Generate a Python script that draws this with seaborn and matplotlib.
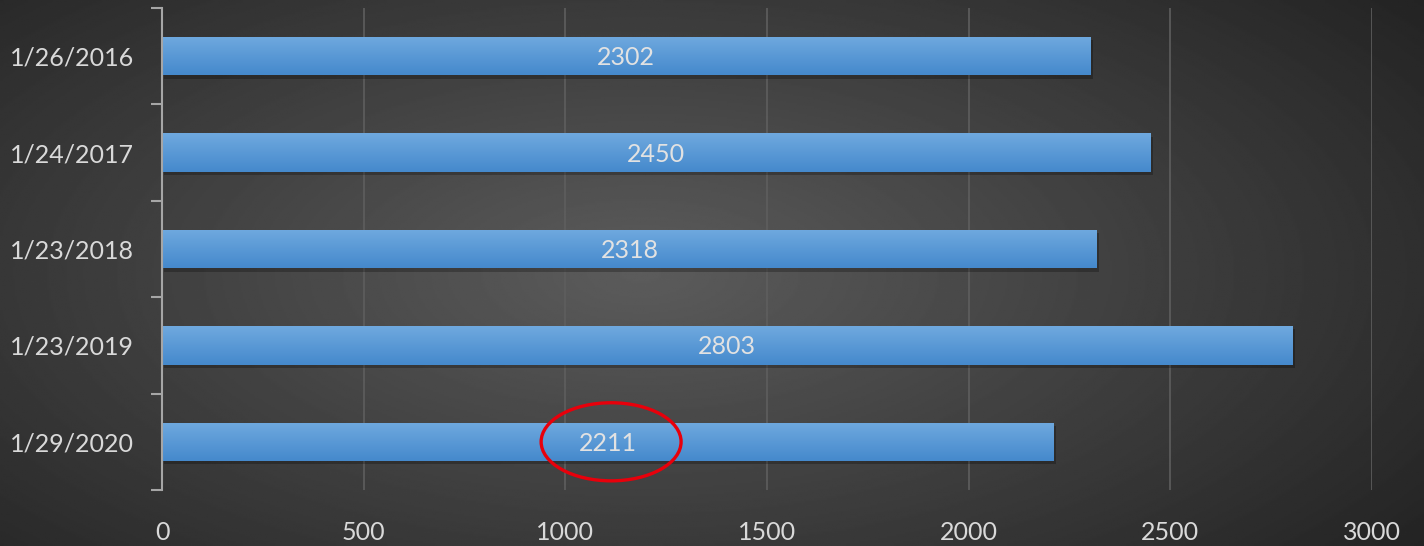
import numpy as np
import pandas as pd
import matplotlib
matplotlib.use("Agg")
import matplotlib.pyplot as plt
import seaborn as sns
from matplotlib.patches import Ellipse, Rectangle

# Data
dates = ["1/26/2016", "1/24/2017", "1/23/2018", "1/23/2019", "1/29/2020"]
counts = [2302, 2450, 2318, 2803, 2211]
highlight = "1/29/2020"  # the label circled in red
xticks = [0, 500, 1000, 1500, 2000, 2500, 3000]

df = pd.DataFrame({"Date": dates, "Count": counts})

sns.set_style("dark")
plt.rcParams["font.family"] = ["Lato", "DejaVu Sans"]

fig = plt.figure(figsize=(14.24, 5.46), dpi=100)

# radial dark background
bg = fig.add_axes([0, 0, 1, 1], zorder=-10)
yy, xx = np.mgrid[0:1:300j, 0:1:800j]
r = np.sqrt(((xx - 0.45) / 0.75) ** 2 + ((yy - 0.5) / 0.9) ** 2)
shade = np.clip(0.36 - 0.24 * r, 0.14, 0.36)
bg.imshow(shade, cmap="gray", vmin=0, vmax=1, aspect="auto", extent=[0, 1, 0, 1])
bg.set_axis_off()

ax = fig.add_axes([162 / 1424, 1 - 490 / 546, 1210 / 1424, 482 / 546])
ax.set_facecolor("none")

sns.barplot(data=df, x="Count", y="Date", orient="h", color="#5b9bd5",
            width=0.40, linewidth=0, edgecolor="none", ax=ax, zorder=3)

# gradient fill + soft shadow on each bar
grad = np.linspace(0, 1, 100).reshape(-1, 1)
bar_cmap = matplotlib.colors.LinearSegmentedColormap.from_list("b", ["#6fa9df", "#4589cc"])
for p in ax.patches:
    x0, y0, w, h = p.get_x(), p.get_y(), p.get_width(), p.get_height()
    ax.add_patch(Rectangle((x0 + 6, y0 + 0.035), w, h, color="black", alpha=0.25,
                           lw=0, zorder=2))
    im = ax.imshow(grad, cmap=bar_cmap, aspect="auto", extent=[x0, x0 + w, y0 + h, y0],
                   zorder=4)
    im.set_clip_path(p)
    ax.text(x0 + w / 2, y0 + h / 2 + 0.015, f"{int(w)}", ha="center", va="center",
            color="#e2e2e2", fontsize=18, zorder=5)

# red circle around the highlighted label
i = dates.index(highlight)
ax.add_patch(Ellipse((counts[i] / 2 + 8, i), 347, 0.81, fill=False,
                     edgecolor="#e8000b", lw=2.4, zorder=6))

ax.set_xlim(0, 3000)
ax.set_ylim(4.5, -0.5)
ax.set_xticks(xticks)
ax.grid(axis="x", color="#5e5e5e", lw=1.2, zorder=0)
ax.grid(axis="y", visible=False)
ax.set_xlabel("")
ax.set_ylabel("")

for s in ["top", "right", "bottom"]:
    ax.spines[s].set_visible(False)
ax.spines["left"].set_color("#a6a6a6")
ax.spines["left"].set_linewidth(1.5)
ax.spines["left"].set_zorder(6)

ax.set_yticks(np.arange(-0.5, 5, 1), minor=True)
ax.tick_params(axis="y", which="minor", length=8, width=1.5, color="#a6a6a6", left=True)
ax.tick_params(axis="y", which="major", length=0, pad=20, labelsize=18, labelcolor="#d9d9d9")
ax.tick_params(axis="x", length=0, pad=22, labelsize=18, labelcolor="#d9d9d9")

fig.savefig("out.png", dpi=100)
